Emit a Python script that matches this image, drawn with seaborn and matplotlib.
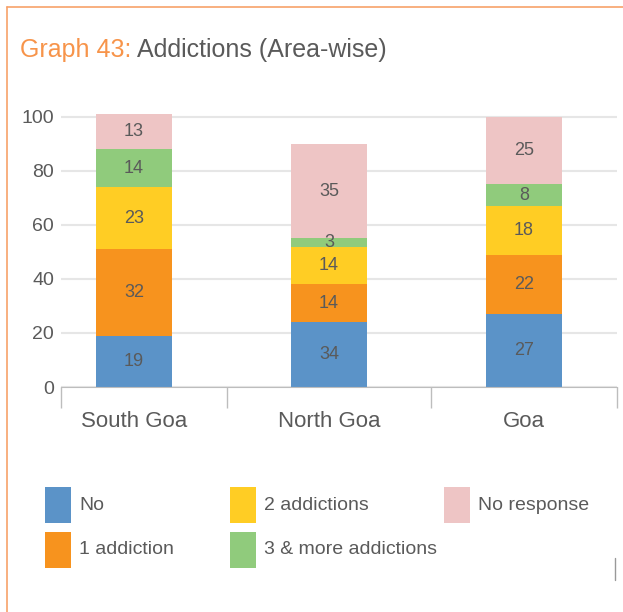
import numpy as np
import pandas as pd
import seaborn as sns
import matplotlib.pyplot as plt
from matplotlib.lines import Line2D
from matplotlib.patches import Rectangle

# data
areas = ["South Goa", "North Goa", "Goa"]
groups = ["No", "1 addiction", "2 addictions", "3 & more addictions", "No response"]
# segment heights as drawn in the picture
no_resp = [19, 24, 27]
one_add = [32, 14, 22]
two_add = [23, 14, 18]
three_add = [14, 3, 8]
no_response = [13, 35, 25]
# printed labels (North Goa "No" is printed as 34)
seg_labels = [["19", "34", "27"], ["32", "14", "22"], ["23", "14", "18"],
              ["14", "3", "8"], ["13", "35", "25"]]
colors = ["#5B93C8", "#F7931E", "#FFCD24", "#90CB7C", "#EEC5C5"]

txt = "#5a5a5a"
sns.set_style("white")
plt.rcParams["font.family"] = ["Liberation Sans", "DejaVu Sans"]

df = pd.DataFrame([no_resp, one_add, two_add, three_add, no_response],
                  index=groups, columns=areas)
cum = df.cumsum()

fig = plt.figure(figsize=(6.23, 6.12), dpi=100)
ax = fig.add_axes([61/623, 1-387/612, 556/623, 281/612])

# stacked bars: draw cumulative totals from top layer down
for g, c in reversed(list(zip(groups, colors))):
    sns.barplot(x=areas, y=cum.loc[g].values, color=c, width=0.39,
                ax=ax, saturation=1, zorder=3, linewidth=0)

bottoms = cum.shift(1).fillna(0)
for gi, g in enumerate(groups):
    for i, a in enumerate(areas):
        ax.text(i, bottoms.loc[g, a] + df.loc[g, a] / 2, seg_labels[gi][i],
                ha="center", va="center", fontsize=13, color=txt, zorder=4)

ax.set_xlim(-0.374, 2.477)
ax.set_ylim(0, 104)
ax.set_yticks([0, 20, 40, 60, 80, 100])
ax.set_xlabel("")
ax.set_ylabel("")
ax.grid(axis="y", color="#e6e6e6", lw=1.5, zorder=0)
for s in ["left", "right", "top"]:
    ax.spines[s].set_visible(False)
ax.spines["bottom"].set_color("#bdbdbd")
ax.spines["bottom"].set_zorder(5)
ax.set_xticks([-0.374, 0.477, 1.523, 2.477], minor=True)
ax.tick_params(axis="x", which="minor", bottom=True, length=15, color="#bdbdbd",
               width=1, direction="out")
ax.tick_params(axis="x", which="major", bottom=True, length=0, pad=17,
               labelsize=16, labelcolor=txt)
ax.tick_params(axis="y", length=0, pad=5, labelsize=14, labelcolor=txt)

# title
t1 = fig.text(20/623, 1-57/612, "Graph 43:", fontsize=18, color="#F7944A", va="baseline")
fig.canvas.draw()
bb = t1.get_window_extent()
fig.text((bb.x1 + 6) / 623, 1-57/612, "Addictions (Area-wise)", fontsize=18,
         color=txt, va="baseline")

# legend drawn by hand
leg_x = [45, 230, 444]
leg_y = [487, 532]
for k, (g, c) in enumerate(zip(groups, colors)):
    col, row = k // 2, k % 2
    x0, y0 = leg_x[col], leg_y[row]
    fig.add_artist(Rectangle((x0/623, 1-(y0+36)/612), 26/623, 36/612,
                             transform=fig.transFigure, color=c, lw=0))
    fig.text((x0+34)/623, 1-(y0+18)/612, g, fontsize=14, color=txt, va="center")

# frame lines
fig.add_artist(Line2D([7/623, 1], [1-7/612, 1-7/612], color="#F7A26A", lw=1.2))
fig.add_artist(Line2D([7/623, 7/623], [0, 1-7/612], color="#F7A26A", lw=1.2))
fig.add_artist(Line2D([615/623, 615/623], [1-580/612, 1-558/612], color="#999999", lw=1))

fig.savefig("out.png", dpi=100)
